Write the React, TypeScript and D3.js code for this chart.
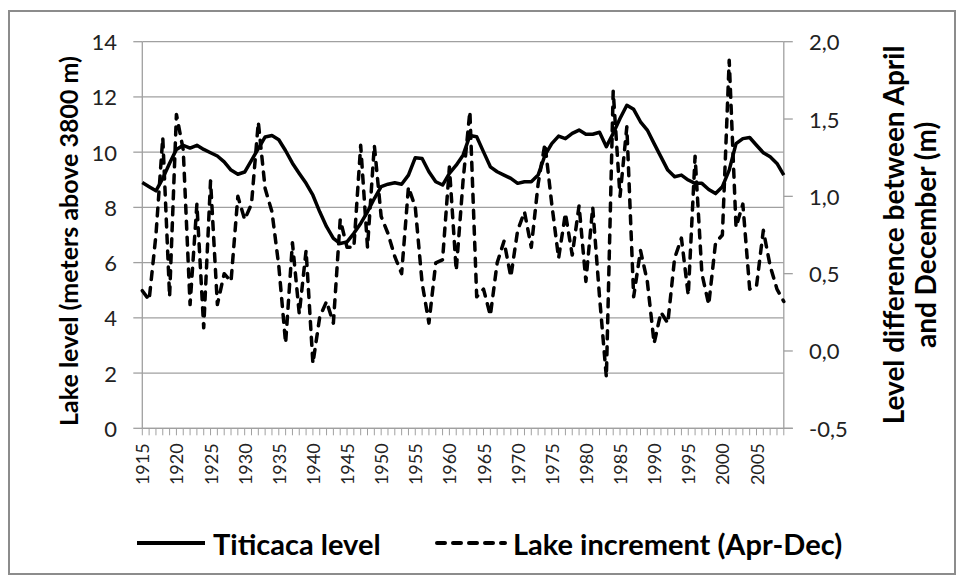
import React from 'react';
import * as d3 from 'd3';

// categories: one per year, 1915-2009
const years = d3.range(1915, 2010);

// lake level, meters above 3800 m (left axis)
const titicacaLevel = [
  8.9, 8.75, 8.6, 9.05, 9.6, 10.1, 10.25, 10.15, 10.25, 10.1,
  9.98, 9.86, 9.65, 9.35, 9.2, 9.28, 9.7, 10.13, 10.55, 10.6,
  10.45, 10.05, 9.6, 9.23, 8.87, 8.44, 7.84, 7.3, 6.88, 6.69,
  6.75, 7.06, 7.42, 7.84, 8.32, 8.75, 8.84, 8.89, 8.84, 9.17,
  9.8, 9.77, 9.29, 8.93, 8.81, 9.23, 9.53, 9.89, 10.6, 10.56,
  10.01, 9.47, 9.29, 9.17, 9.05, 8.87, 8.93, 8.93, 9.17, 9.89,
  10.31, 10.58, 10.49, 10.68, 10.8, 10.65, 10.65, 10.72, 10.2, 10.68,
  11.22, 11.7, 11.55, 11.1, 10.8, 10.31, 9.83, 9.35, 9.11, 9.17,
  8.99, 8.87, 8.87, 8.65, 8.5, 8.75, 9.35, 10.31, 10.49, 10.53,
  10.25, 9.98, 9.83, 9.59, 9.17,
];

// April-December level difference, m (right axis)
const lakeIncrement = [
  0.39, 0.33, 0.75, 1.38, 0.35, 1.53, 1.3, 0.3, 0.95, 0.15,
  1.1, 0.3, 0.5, 0.45, 1.0, 0.85, 0.95, 1.48, 1.05, 0.9,
  0.55, 0.05, 0.7, 0.24, 0.65, -0.08, 0.22, 0.32, 0.18, 0.85,
  0.67, 0.67, 1.33, 0.67, 1.33, 0.87, 0.76, 0.61, 0.5, 1.06,
  0.93, 0.44, 0.18, 0.57, 0.59, 1.19, 0.52, 1.1, 1.55, 0.35,
  0.4, 0.23, 0.57, 0.71, 0.48, 0.78, 0.9, 0.67, 1.08, 1.34,
  0.95, 0.6, 0.89, 0.62, 0.94, 0.45, 0.93, 0.35, -0.17, 1.68,
  1.0, 1.45, 0.35, 0.65, 0.45, 0.05, 0.25, 0.18, 0.6, 0.73,
  0.36, 1.26, 0.5, 0.3, 0.7, 0.75, 1.88, 0.8, 0.95, 0.4,
  0.42, 0.78, 0.55, 0.4, 0.32,
];

const leftTicks = [0, 2, 4, 6, 8, 10, 12, 14];
const rightTicks = [-0.5, 0, 0.5, 1.0, 1.5, 2.0];
const yearLabels = [1915, 1920, 1925, 1930, 1935, 1940, 1945, 1950, 1955, 1960, 1965, 1970, 1975, 1980, 1985, 1990, 1995, 2000, 2005];

const W = 960;
const H = 583;
const plot = { left: 142.3, right: 783.8, top: 41.7, bottom: 428.3 };
const font = 'Lato, "Open Sans", sans-serif';
const grid = '#a0a0a0';

export default function App() {
  const x = d3.scalePoint<number>().domain(years).range([plot.left, plot.right]);
  const yL = d3.scaleLinear().domain([0, 14]).range([plot.bottom, plot.top]);
  const yR = d3.scaleLinear().domain([-0.5, 2.0]).range([plot.bottom, plot.top]);

  const levelLine = d3
    .line<number>()
    .x((_, i) => x(years[i]) as number)
    .y((d) => yL(d));
  const incLine = d3
    .line<number>()
    .x((_, i) => x(years[i]) as number)
    .y((d) => yR(d));

  const fmtR = (v: number) => v.toFixed(1).replace('.', ',');
  const midY = (plot.top + plot.bottom) / 2;

  return (
    <svg
      width={W}
      height={H}
      style={{ position: 'absolute', left: 0, top: 0, background: '#fff' }}
      fontFamily={font}
    >
      <rect x={9} y={11} width={946} height={563} fill="#fff" stroke="#8c8c8c" strokeWidth={2} />

      {/* gridlines + left ticks */}
      {leftTicks.map((t) => (
        <g key={'l' + t}>
          <line x1={plot.left} x2={plot.right} y1={yL(t)} y2={yL(t)} stroke={grid} strokeWidth={1.3} />
          <line x1={plot.left - 9} x2={plot.left} y1={yL(t)} y2={yL(t)} stroke={grid} strokeWidth={1.3} />
          <text x={117} y={yL(t)} textAnchor="end" dominantBaseline="central" fontSize={22} fill="#222">
            {t}
          </text>
        </g>
      ))}

      {/* right ticks */}
      {rightTicks.map((t) => (
        <g key={'r' + t}>
          <line x1={plot.right} x2={plot.right + 9} y1={yR(t)} y2={yR(t)} stroke={grid} strokeWidth={1.3} />
          <text x={809} y={yR(t)} textAnchor="start" dominantBaseline="central" fontSize={22} fill="#222">
            {fmtR(t)}
          </text>
        </g>
      ))}

      {/* axes */}
      <line x1={plot.left} x2={plot.left} y1={plot.top} y2={plot.bottom} stroke={grid} strokeWidth={1.3} />
      <line x1={plot.right} x2={plot.right} y1={plot.top} y2={plot.bottom} stroke={grid} strokeWidth={1.3} />
      <line x1={plot.left} x2={plot.right + 9} y1={plot.bottom} y2={plot.bottom} stroke={grid} strokeWidth={1.3} />
      {years.map((yr) => (
        <line
          key={'t' + yr}
          x1={x(yr)}
          x2={x(yr)}
          y1={plot.bottom}
          y2={plot.bottom + 7}
          stroke={grid}
          strokeWidth={1}
        />
      ))}
      {yearLabels.map((yr) => (
        <text
          key={'x' + yr}
          transform={`translate(${x(yr)},${plot.bottom + 15}) rotate(-90)`}
          textAnchor="end"
          dominantBaseline="central"
          fontSize={18}
          fill="#222"
        >
          {yr}
        </text>
      ))}

      {/* series */}
      <path d={incLine(lakeIncrement) || ''} fill="none" stroke="#000" strokeWidth={3.5} strokeDasharray="8,8" strokeLinecap="round" strokeLinejoin="round" />
      <path d={levelLine(titicacaLevel) || ''} fill="none" stroke="#000" strokeWidth={3.5} strokeLinejoin="round" />

      {/* axis titles */}
      <text
        transform={`translate(68,${midY + 6}) rotate(-90)`}
        textAnchor="middle"
        dominantBaseline="central"
        fontSize={25}
        fontWeight="bold"
        fill="#000"
      >
        Lake level (meters above 3800 m)
      </text>
      <text transform={`translate(893,${midY}) rotate(-90)`} textAnchor="middle" dominantBaseline="central" fontSize={28} fontWeight="bold" fill="#000">
        Level difference between April
      </text>
      <text transform={`translate(925,${midY}) rotate(-90)`} textAnchor="middle" dominantBaseline="central" fontSize={28} fontWeight="bold" fill="#000">
        and December (m)
      </text>

      {/* legend */}
      <line x1={137} x2={205} y1={543} y2={543} stroke="#000" strokeWidth={4} />
      <text x={213} y={543} dominantBaseline="central" fontSize={29} fontWeight="bold" fill="#000">
        Titicaca level
      </text>
      <line x1={437} x2={505} y1={543} y2={543} stroke="#000" strokeWidth={4} strokeDasharray="8,8" strokeLinecap="round" />
      <text x={513} y={543} dominantBaseline="central" fontSize={29} fontWeight="bold" fill="#000">
        Lake increment (Apr-Dec)
      </text>
    </svg>
  );
}
